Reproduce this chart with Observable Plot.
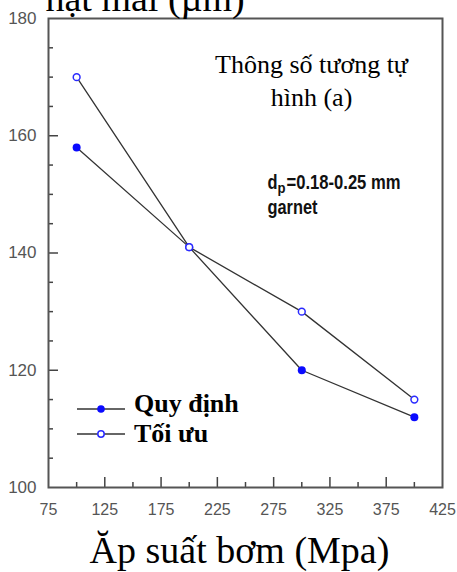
<!DOCTYPE html>
<html>
<head>
<meta charset="utf-8">
<script src="https://cdn.jsdelivr.net/npm/d3@7"></script>
<script src="https://cdn.jsdelivr.net/npm/@observablehq/plot@0.6"></script>
<style>
  body { margin: 0; background: white; }
  #chart { position: relative; width: 457px; height: 572px; overflow: hidden; }
</style>
</head>
<body>
<div id="chart"></div>
<script>
// ---- data ----
const pressure = [100, 200, 300, 400];
const quyDinh = [158, 141, 120, 112];
const toiUu = [170, 141, 130, 115];
const seriesNames = ["Quy định", "Tối ưu"];

const xTickLabels = [75, 125, 175, 225, 275, 325, 375, 425];
const xMajorTicks = [125, 175, 225, 275, 325, 375];
const xMinorTicks = [100, 150, 200, 250, 300, 350, 400];
const yTickLabels = [100, 120, 140, 160, 180];
const yMajorTicks = [120, 140, 160];
const yMinorTicks = [105, 110, 115, 125, 130, 135, 145, 150, 155, 165, 170, 175];

const xTitle = "Ăp suất bơm (Mpa)";
const yTitle = "hạt mài (µm)";
const note1 = "Thông số tương tự";
const note2 = "hình (a)";
const noteD = "d";
const noteP = "p";
const noteRange = "=0.18-0.25 mm";
const noteMat = "garnet";

// ---- table ----
const rows = pressure.flatMap((p, i) => [
  {p, v: quyDinh[i], s: seriesNames[0]},
  {p, v: toiUu[i], s: seriesNames[1]}
]);

const W = 457, H = 572, mL = 48, mR = 15, mT = 18, mB = 85;
const pw = W - mL - mR, ph = H - mT - mB;
const serif = "'Liberation Serif', 'Times New Roman', serif";
const sans = "'Liberation Sans', Arial, sans-serif";

const plot = Plot.plot({
  width: W, height: H,
  marginLeft: mL, marginRight: mR, marginTop: mT, marginBottom: mB,
  x: {domain: [75, 425]},
  y: {domain: [100, 180]},
  style: {fontFamily: sans, background: "white", overflow: "visible"},
  marks: [
    Plot.tickY(yMajorTicks, {y: d => d, insetRight: pw - 10, stroke: "#444", strokeWidth: 1.5}),
    Plot.tickY(yMinorTicks, {y: d => d, insetRight: pw - 5, stroke: "#444", strokeWidth: 1.5}),
    Plot.tickX(xMajorTicks, {x: d => d, insetTop: ph - 10, stroke: "#444", strokeWidth: 1.5}),
    Plot.tickX(xMinorTicks, {x: d => d, insetTop: ph - 5, stroke: "#444", strokeWidth: 1.5}),
    Plot.frame({stroke: "#555", strokeWidth: 2}),
    Plot.axisY({ticks: yTickLabels, tickSize: 0, tickPadding: 12, fontSize: 17, color: "#555", label: null, tickFormat: d => String(d)}),
    Plot.axisX({ticks: xTickLabels, tickSize: 0, tickPadding: 16, fontSize: 16, color: "#555", label: null, tickFormat: d => String(d)}),
    Plot.line(rows, {x: "p", y: "v", z: "s", stroke: "#333", strokeWidth: 1.3}),
    Plot.dot(rows.filter(d => d.s === seriesNames[0]), {x: "p", y: "v", r: 4, fill: "#0a0aff"}),
    Plot.dot(rows.filter(d => d.s === seriesNames[1]), {x: "p", y: "v", r: 3.4, fill: "white", stroke: "#2a2aff", strokeWidth: 1.5}),
    Plot.text([yTitle], {text: d => d, frameAnchor: "top-left", dx: -3, dy: -8, textAnchor: "start", lineAnchor: "bottom", fontSize: 38, fontFamily: serif, fill: "black"}),
    Plot.text([xTitle], {text: d => d, frameAnchor: "bottom", dx: -6, dy: 75, textAnchor: "middle", lineAnchor: "bottom", fontSize: 38, fontFamily: serif, fill: "black"}),
    Plot.text([note1], {text: d => d, frameAnchor: "top-left", dx: 263, dy: 54, textAnchor: "middle", lineAnchor: "bottom", fontSize: 26, fontFamily: serif, fill: "black"}),
    Plot.text([note2], {text: d => d, frameAnchor: "top-left", dx: 263, dy: 87, textAnchor: "middle", lineAnchor: "bottom", fontSize: 26, fontFamily: serif, fill: "black"}),
    Plot.text([noteD], {text: d => d, frameAnchor: "top-left", dx: 219, dy: 170, textAnchor: "start", lineAnchor: "bottom", fontSize: 20, fontWeight: "bold", fontFamily: sans, fill: "#111"}),
    Plot.text([noteP], {text: d => d, frameAnchor: "top-left", dx: 229, dy: 174, textAnchor: "start", lineAnchor: "bottom", fontSize: 14, fontWeight: "bold", fontFamily: sans, fill: "#111"}),
    Plot.text([noteRange], {text: d => d, frameAnchor: "top-left", dx: 238, dy: 170, textAnchor: "start", lineAnchor: "bottom", fontSize: 20, fontWeight: "bold", fontFamily: sans, fill: "#111"}),
    Plot.text([noteMat], {text: d => d, frameAnchor: "top-left", dx: 219, dy: 195, textAnchor: "start", lineAnchor: "bottom", fontSize: 20, fontWeight: "bold", fontFamily: sans, fill: "#111"})
  ]
});

document.getElementById("chart").appendChild(plot);

const svg = d3.select(plot);
// condense the sans-serif bold annotation to its narrow look
const condense = {[noteRange]: 114, [noteMat]: 50, [noteD]: 10, [noteP]: 8};
svg.selectAll("text").each(function () {
  const t = this.textContent;
  if (condense[t] === undefined) return;
  const bold = this.getAttribute("font-weight") === "bold" ||
    (this.parentNode && this.parentNode.getAttribute && this.parentNode.getAttribute("font-weight") === "bold");
  if (bold) d3.select(this).attr("textLength", condense[t]).attr("lengthAdjust", "spacingAndGlyphs");
});

// ---- legend (inside the plot area, lower left) ----
const legend = svg.append("g").attr("transform", "translate(77,0)");
const legendRows = [
  {name: seriesNames[0], y: 409, filled: true},
  {name: seriesNames[1], y: 434, filled: false}
];
legendRows.forEach(r => {
  legend.append("line").attr("x1", 0).attr("x2", 48).attr("y1", r.y).attr("y2", r.y)
    .attr("stroke", "#333").attr("stroke-width", 1.3);
  legend.append("circle").attr("cx", 24).attr("cy", r.y).attr("r", r.filled ? 3.8 : 3.2)
    .attr("fill", r.filled ? "#0a0aff" : "white")
    .attr("stroke", r.filled ? "none" : "#2a2aff").attr("stroke-width", 1.5);
  legend.append("text").attr("x", 57).attr("y", r.y + 3 + (r.filled ? 0 : 5))
    .attr("text-anchor", "start")
    .attr("font-family", serif).attr("font-weight", "bold").attr("font-size", 26)
    .attr("fill", "black").text(r.name);
});
</script>
</body>
</html>
